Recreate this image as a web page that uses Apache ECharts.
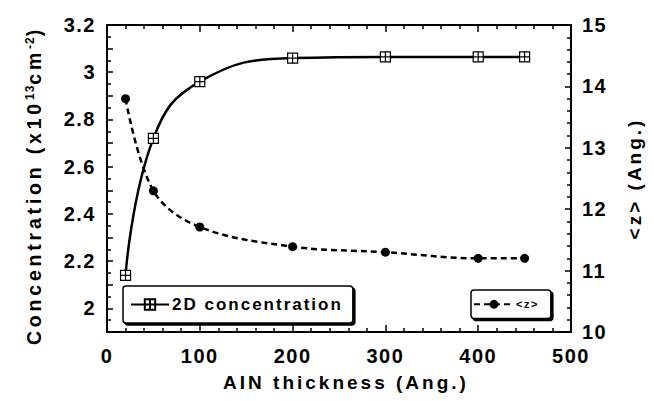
<!DOCTYPE html>
<html>
<head>
<meta charset="utf-8">
<script src="https://cdn.jsdelivr.net/npm/echarts@6/dist/echarts.min.js"></script>
<style>
  html, body { margin: 0; padding: 0; background: #fff; }
  #chart { width: 654px; height: 401px; }
  /* wide tracking, per text size */
  #chart text[style*="20px"] { letter-spacing: 1.5px; }
  #chart text[style*="19px"] { letter-spacing: 3px; }
  #chart text[style*="19.5px"] { letter-spacing: 3.8px; }
  #chart text[style*="17px"] { letter-spacing: 2px; }
  #chart text[style*="12px"] { letter-spacing: 1px; }
  #chart text[style*="11px"] { letter-spacing: 1.5px; }
</style>
</head>
<body>
<div id="chart"></div>
<script>
// AlN barrier thickness (Angstrom)
const thickness = [20, 50, 100, 200, 300, 400, 450];
// 2DEG sheet concentration (x10^13 cm^-2)
const concentration = [2.14, 2.72, 2.96, 3.06, 3.065, 3.065, 3.065];
// mean electron distance from interface <z> (Angstrom)
const zMean = [13.8, 12.3, 11.71, 11.39, 11.3, 11.2, 11.2];
// labelled ticks on the concentration axis
const concTicks = [2, 2.2, 2.4, 2.6, 2.8, 3, 3.2];

const FONT = '"Liberation Sans", Arial, Helvetica, sans-serif';
const TRACKING = { '20': 1.5, '19': 3, '19.5': 3.8, '17': 2, '12': 1, '11': 1.5 };

// text measurement that accounts for the letter spacing set in the stylesheet
const measureCtx = document.createElement('canvas').getContext('2d');
echarts.setPlatformAPI({
  measureText: function (text, font) {
    measureCtx.font = font || '12px sans-serif';
    const m = /(\d+(?:\.\d+)?)px/.exec(font || '');
    const t = m ? (TRACKING[m[1]] || 0) : 0;
    return { width: measureCtx.measureText(text).width + t * text.length };
  }
});

const chart = echarts.init(document.getElementById('chart'), null, { renderer: 'svg' });

const black = '#000';
const axisLine = { show: true, onZero: false, lineStyle: { color: black, width: 2 } };
const tickStyle = { color: black, width: 1.5 };
const labelStyle = { color: black, fontSize: 20, fontWeight: 'bold', fontFamily: FONT };
const nameStyle = { color: black, fontSize: 19, fontWeight: 'bold', fontFamily: FONT };

const option = {
  animation: false,
  backgroundColor: '#fff',
  grid: { left: 107, right: 83, top: 25, bottom: 69, containLabel: false },
  xAxis: [
    {
      type: 'value', position: 'bottom', min: 0, max: 500, interval: 100,
      axisLine: axisLine,
      axisTick: { inside: true, length: 7, lineStyle: tickStyle },
      minorTick: { show: true, splitNumber: 5, length: 4, lineStyle: tickStyle },
      splitLine: { show: false },
      axisLabel: Object.assign({ margin: 13 }, labelStyle),
      name: 'AIN thickness (Ang.)', nameLocation: 'middle', nameGap: 37,
      nameTextStyle: Object.assign({ padding: [0, 0, 0, 14] }, nameStyle)
    },
    {
      type: 'value', position: 'top', min: 0, max: 500, interval: 100,
      axisLine: axisLine,
      axisTick: { inside: true, length: 7, lineStyle: tickStyle },
      minorTick: { show: true, splitNumber: 5, length: 4, lineStyle: tickStyle },
      splitLine: { show: false },
      axisLabel: { show: false }
    }
  ],
  yAxis: [
    {
      type: 'value', position: 'left', min: 1.9, max: 3.2, interval: 0.1,
      axisLine: axisLine,
      axisTick: { inside: true, length: 6, lineStyle: tickStyle },
      minorTick: { show: true, splitNumber: 2, length: 4, lineStyle: tickStyle },
      splitLine: { show: false },
      axisLabel: Object.assign({
        margin: 11,
        formatter: function (v) {
          const hit = concTicks.find(function (t) { return Math.abs(t - v) < 1e-6; });
          return hit === undefined ? '' : String(hit);
        }
      }, labelStyle),
      name: '{t|Concentration (x10}{s|13}{t|cm}{s|-2}{t|)}',
      nameLocation: 'middle', nameGap: 62, nameRotate: 90,
      nameTextStyle: {
        padding: [0, 14, 0, 0],
        rich: {
          t: { color: black, fontSize: 19.5, fontWeight: 'bold', fontFamily: FONT, lineHeight: 22 },
          s: { color: black, fontSize: 12, fontWeight: 'bold', fontFamily: FONT, lineHeight: 12, verticalAlign: 'top' }
        }
      }
    },
    {
      type: 'value', position: 'right', min: 10, max: 15, interval: 1,
      axisLine: axisLine,
      axisTick: { inside: true, length: 6, lineStyle: tickStyle },
      minorTick: { show: true, splitNumber: 5, length: 4, lineStyle: tickStyle },
      splitLine: { show: false },
      axisLabel: Object.assign({ margin: 11 }, labelStyle),
      name: '<z> (Ang.)', nameLocation: 'middle', nameGap: 52, nameRotate: 90,
      nameTextStyle: nameStyle
    }
  ],
  legend: [
    {
      data: ['2D concentration'], left: 123, top: 286, orient: 'horizontal',
      itemWidth: 38, itemHeight: 13, itemGap: 5,
      padding: [9, 10, 9, 7],
      backgroundColor: '#fff', borderColor: black, borderWidth: 1.5, borderRadius: 3,
      shadowColor: black, shadowBlur: 0, shadowOffsetX: 2, shadowOffsetY: 2,
      textStyle: { color: black, fontSize: 17, fontWeight: 'bold', fontFamily: FONT, padding: [0, 0, 0, -2] }
    },
    {
      data: ['<z>'], left: 471, top: 290, orient: 'horizontal',
      itemWidth: 40, itemHeight: 11, itemGap: 5,
      padding: [8, 12, 8, 2],
      backgroundColor: '#fff', borderColor: black, borderWidth: 1.5, borderRadius: 3,
      shadowColor: black, shadowBlur: 0, shadowOffsetX: 2, shadowOffsetY: 2,
      textStyle: { color: black, fontSize: 11, fontWeight: 'bold', fontFamily: FONT, padding: [0, 0, 0, -3] }
    }
  ],
  series: [
    {
      name: '2D concentration', type: 'line', xAxisIndex: 0, yAxisIndex: 0,
      data: thickness.map(function (x, i) { return [x, concentration[i]]; }),
      smooth: 0.45,
      symbol: 'path://M0,0H10V10H0Z M5,0V10 M0,5H10', symbolSize: 10,
      lineStyle: { color: black, width: 2.5 },
      itemStyle: { color: '#fff', borderColor: black, borderWidth: 1.2 },
      z: 3
    },
    {
      name: '<z>', type: 'line', xAxisIndex: 0, yAxisIndex: 1,
      data: thickness.map(function (x, i) { return [x, zMean[i]]; }),
      smooth: 0.35,
      symbol: 'circle', symbolSize: 9,
      lineStyle: { color: black, width: 2.5, type: [6, 4] },
      itemStyle: { color: black },
      z: 2
    }
  ]
};

chart.setOption(option);
</script>
</body>
</html>
